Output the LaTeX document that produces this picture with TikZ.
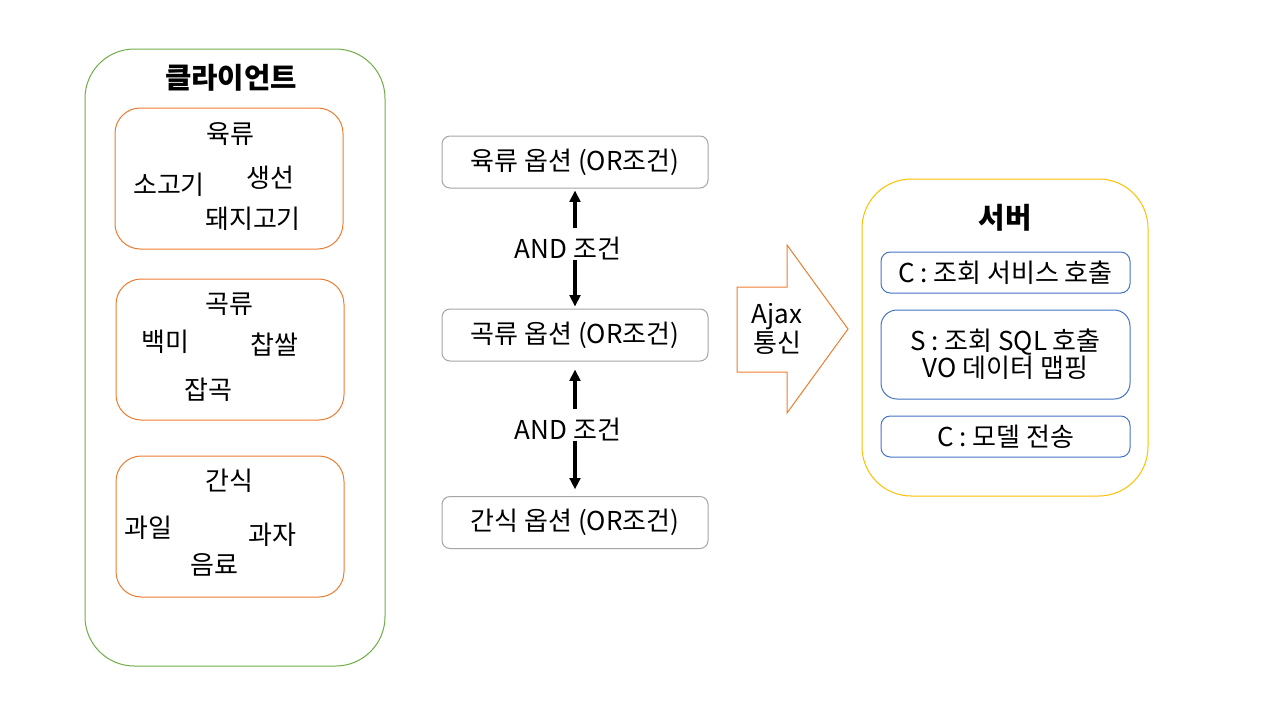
\documentclass[tikz,border=0pt]{standalone}
\usepackage{fontspec}
\setmainfont{Noto Sans CJK KR}
\usetikzlibrary{arrows.meta,positioning}
\definecolor{clientgreen}{HTML}{70AD47}
\definecolor{catorange}{HTML}{ED7D31}
\definecolor{servergold}{HTML}{FFC000}
\definecolor{stepblue}{HTML}{4472C4}
\definecolor{optgray}{HTML}{A5A5A5}
\def\u{0.75pt}

\begin{document}
\begin{tikzpicture}[x=0.75pt, y=-0.75pt, >={Triangle[width=8pt,length=8.5pt]},
  every node/.style={font=\fontsize{19.5}{20}\selectfont, inner sep=0pt},
  group/.style={draw, rounded corners=37pt, line width=0.75pt},
  title/.style={font=\fontsize{21.5}{24}\bfseries\selectfont},
  cat/.style={draw=catorange, rounded corners=19pt, line width=0.75pt, minimum width=228*\u, minimum height=141*\u},
  opt/.style={draw=optgray, rounded corners=6pt, line width=0.75pt, minimum width=266*\u, minimum height=52*\u},
  stepbox/.style={draw=stepblue, rounded corners=7pt, line width=0.75pt, minimum width=249*\u, minimum height=41*\u, align=center},
  andarrow/.style={->, line width=2.6pt, shorten >=1.5pt},
  andlabel/.style={anchor=base, text height=22.5pt, text depth=1pt}]
\fill[white] (0,0) rectangle (1279,719);
\useasboundingbox (0,0) rectangle (1279,719);

% client
\node[group, draw=clientgreen, minimum width=300*\u, minimum height=617*\u] (client) at (235,357.5) {};
\node[title] (clienttitle) at (231,78) {클라이언트};

\node[cat] (meat) at (229,178.5) {};
\node (meattitle) at (230,134) {육류};
\node (beef) at (169,185) {소고기};
\node (fish) at (270,178) {생선};
\node (pork) at (253,219) {돼지고기};

\node[cat] (grain) at (230,349.5) {};
\node (graintitle) at (229,304) {곡류};
\node (rice) at (165,342) {백미};
\node (sticky) at (274,345) {찹쌀};
\node (mixed) at (208,390) {잡곡};

\node[cat] (snack) at (230,526.5) {};
\node (snacktitle) at (229,481) {간식};
\node (fruit) at (148,528) {과일};
\node (cookie) at (272,535) {과자};
\node (drink) at (214,565) {음료};

% options
\node[opt] (opt1) at (575,162) {육류 옵션 (OR조건)};
\node[opt] (opt2) at (575,335) {곡류 옵션 (OR조건)};
\node[opt] (opt3) at (575,522.5) {간식 옵션 (OR조건)};

\node[andlabel] (and1) at (568,258) {AND 조건};
\node[andlabel] (and2) at (568,439) {AND 조건};

\draw[andarrow] (and1.north -| opt1.south) -- (opt1.south);
\draw[andarrow] (and1.south -| opt2.north) -- (opt2.north);
\draw[andarrow, shorten >=6pt] (and2.north -| opt2.south) -- (opt2.south);
\draw[andarrow, shorten >=5pt] (and2.south -| opt3.north) -- (opt3.north);

% ajax
\draw[catorange, line width=0.75pt] (737,287) -- (787,287) -- (787,245) -- (848,329)
  -- (787,413) -- (787,372) -- (737,372) -- cycle;
\node[align=center, font=\fontsize{19.5}{19.5}\selectfont] (ajax) at (777,329) {Ajax\\통신};

% server
\node[group, draw=servergold, minimum width=286*\u, minimum height=317*\u] (server) at (1005,337.5) {};
\node[title] (servertitle) at (1005,218) {서버};
\node[stepbox] (ctrl1) at (1005.5,272.5) {C : 조회 서비스 호출};
\node[stepbox, minimum height=89*\u, rounded corners=12pt, font=\fontsize{19.5}{20.25}\selectfont] (svc) at (1005.5,354.5) {S : 조회 SQL 호출\\VO 데이터 맵핑};
\node[stepbox] (ctrl2) at (1005.5,436.5) {C : 모델 전송};
\end{tikzpicture}
\end{document}
